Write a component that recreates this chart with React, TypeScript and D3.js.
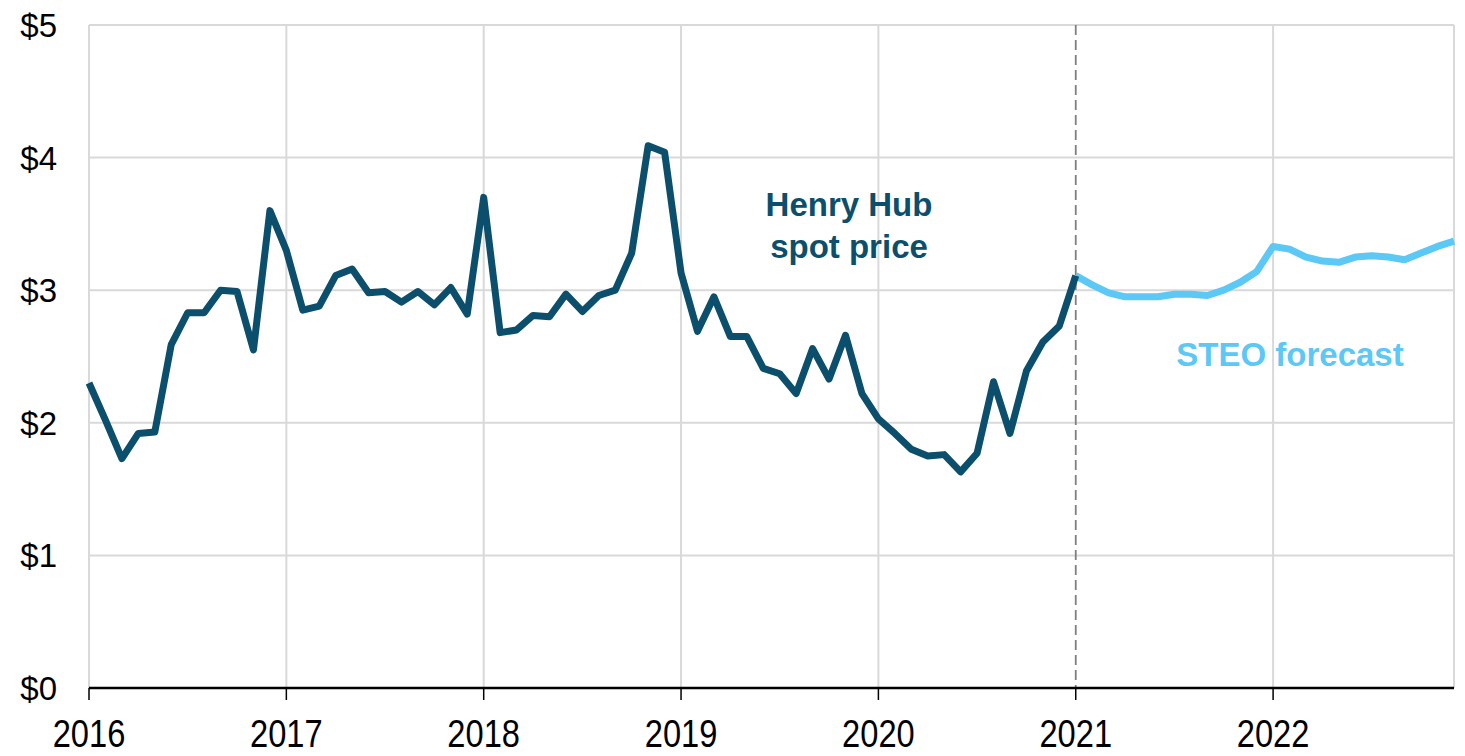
import React from "react";
import * as d3 from "d3";

// Monthly Henry Hub spot price, Jan 2016 – Jan 2021 (dollars per MMBtu)
const historyValues = [
  2.30, 2.02, 1.73, 1.92, 1.93, 2.59, 2.83, 2.83, 3.00, 2.99, 2.55, 3.60,
  3.30, 2.85, 2.88, 3.11, 3.16, 2.98, 2.99, 2.91, 2.99, 2.89, 3.02, 2.82,
  3.70, 2.68, 2.70, 2.81, 2.80, 2.97, 2.84, 2.96, 3.00, 3.28, 4.09, 4.04,
  3.13, 2.69, 2.95, 2.65, 2.65, 2.41, 2.37, 2.22, 2.56, 2.33, 2.66, 2.22,
  2.03, 1.92, 1.80, 1.75, 1.76, 1.63, 1.77, 2.31, 1.92, 2.39, 2.61, 2.73,
  3.11,
];

// STEO forecast, Jan 2021 – Dec 2022
const forecastValues = [
  3.11, 3.04, 2.98, 2.95, 2.95, 2.95, 2.97, 2.97, 2.96, 3.00, 3.06, 3.14,
  3.33, 3.31, 3.25, 3.22, 3.21, 3.25, 3.26, 3.25, 3.23, 3.28, 3.33, 3.37,
];

const yearLabels = ["2016", "2017", "2018", "2019", "2020", "2021", "2022"];
const priceTicks = [0, 1, 2, 3, 4, 5];
const startYear = 2016;
const forecastStartMonth = 60;
const totalMonths = 84;

const DARK = "#0b4f6c";
const LIGHT = "#5bc8f5";
const GRID = "#d9d9d9";

export default function App() {
  const width = 1465;
  const height = 756;
  const x = d3.scaleLinear().domain([0, totalMonths - 1]).range([89, 1454]);
  const y = d3.scaleLinear().domain([0, 5]).range([688, 25]);

  const histLine = d3
    .line<number>()
    .x((_, i) => x(i))
    .y((d) => y(d));
  const fcLine = d3
    .line<number>()
    .x((_, i) => x(i + forecastStartMonth))
    .y((d) => y(d));

  const font = "'Liberation Sans', Arial, Helvetica, sans-serif";

  return (
    <svg
      width={width}
      height={height}
      style={{ position: "absolute", left: 0, top: 0, background: "#fff" }}
      fontFamily={font}
    >
      {/* horizontal gridlines */}
      {priceTicks.map((t) =>
        t === 0 ? null : (
          <line
            key={"h" + t}
            x1={x(0)}
            x2={x(totalMonths - 1)}
            y1={y(t)}
            y2={y(t)}
            stroke={GRID}
            strokeWidth={2}
          />
        )
      )}
      {/* vertical gridlines */}
      {yearLabels.map((yl) => {
        const m = (+yl - startYear) * 12;
        if (m === forecastStartMonth) return null;
        return (
          <line
            key={"v" + yl}
            x1={x(m)}
            x2={x(m)}
            y1={y(5)}
            y2={y(0)}
            stroke={GRID}
            strokeWidth={2}
          />
        );
      })}
      {/* right border */}
      <line
        x1={x(totalMonths - 1)}
        x2={x(totalMonths - 1)}
        y1={y(5)}
        y2={y(0)}
        stroke={GRID}
        strokeWidth={2}
      />
      {/* forecast divider */}
      <line
        x1={x(forecastStartMonth)}
        x2={x(forecastStartMonth)}
        y1={y(5)}
        y2={y(0)}
        stroke="#7f7f7f"
        strokeWidth={1.8}
        strokeDasharray="10,5"
      />
      {/* y tick labels */}
      {priceTicks.map((t) => (
        <text
          key={"yl" + t}
          x={57}
          y={y(t) + 12}
          textAnchor="end"
          fontSize={33}
          fill="#000"
        >
          {"$" + t}
        </text>
      ))}
      {/* x axis */}
      <line
        x1={x(0)}
        x2={x(totalMonths - 1)}
        y1={y(0)}
        y2={y(0)}
        stroke="#000"
        strokeWidth={2.5}
      />
      {yearLabels.map((yl) => {
        const m = (+yl - startYear) * 12;
        return (
          <g key={"xt" + yl}>
            <line
              x1={x(m)}
              x2={x(m)}
              y1={y(0)}
              y2={y(0) + 12}
              stroke="#000"
              strokeWidth={1.5}
            />
            <text
              transform={`translate(${x(m)},747) scale(0.86,1)`}
              textAnchor="middle"
              fontSize={38}
              fill="#000"
            >
              {yl}
            </text>
          </g>
        );
      })}
      {/* lines */}
      <path
        d={fcLine(forecastValues) || ""}
        fill="none"
        stroke={LIGHT}
        strokeWidth={7}
        strokeLinejoin="round"
      />
      <path
        d={histLine(historyValues) || ""}
        fill="none"
        stroke={DARK}
        strokeWidth={7}
        strokeLinejoin="round"
      />
      {/* annotations */}
      <text
        x={849}
        y={216}
        textAnchor="middle"
        fontSize={33}
        fontWeight="bold"
        fill={DARK}
      >
        <tspan x={849}>Henry Hub</tspan>
        <tspan x={849} dy={42}>
          spot price
        </tspan>
      </text>
      <text
        x={1290}
        y={366}
        textAnchor="middle"
        fontSize={33}
        fontWeight="bold"
        fill={LIGHT}
      >
        STEO forecast
      </text>
    </svg>
  );
}
